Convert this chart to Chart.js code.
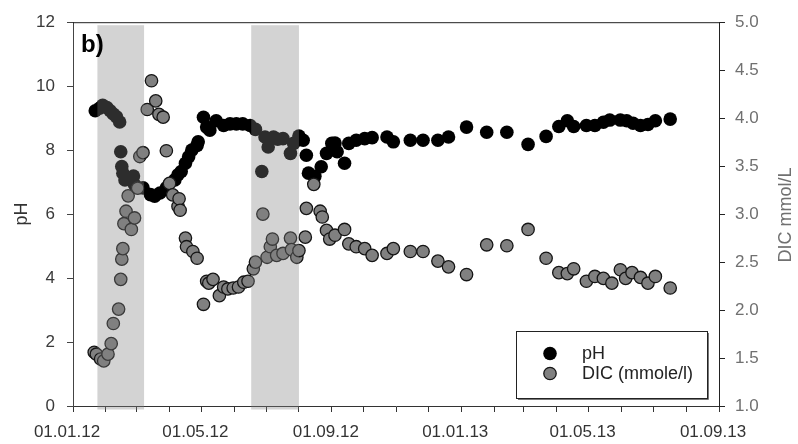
<!DOCTYPE html>
<html>
<head>
<meta charset="utf-8">
<script src="https://cdn.jsdelivr.net/npm/chart.js@4.4.1/dist/chart.umd.min.js"></script>
<style>
  html, body { margin: 0; padding: 0; background: #fff; }
  #wrap { width: 798px; height: 444px; }
</style>
</head>
<body>
<div id="wrap"><canvas id="chart" width="798" height="444"></canvas></div>
<script>
// Sampling dates (dd.mm.yy) and measured values
const phDates = [
  '22.01.12','26.01.12','29.01.12','02.02.12','05.02.12','08.02.12','11.02.12','14.02.12',
  '15.02.12','16.02.12','17.02.12','19.02.12','24.02.12','27.02.12','28.02.12','07.03.12',
  '14.03.12','18.03.12','23.03.12','29.03.12','06.04.12','09.04.12','12.04.12','16.04.12',
  '19.04.12','22.04.12','27.04.12','28.04.12','03.05.12','06.05.12','09.05.12','15.05.12',
  '22.05.12','28.05.12','03.06.12','09.06.12','16.06.12','21.06.12','27.06.12','30.06.12',
  '03.07.12','08.07.12','12.07.12','17.07.12','24.07.12','27.07.12','01.08.12','05.08.12',
  '08.08.12','10.08.12','16.08.12','22.08.12','27.08.12','01.09.12','04.09.12','06.09.12',
  '13.09.12','17.09.12','24.09.12','02.10.12','09.10.12','23.10.12','29.10.12','14.11.12',
  '26.11.12','10.12.12','20.12.12','06.01.13','25.01.13','13.02.13','05.03.13','22.03.13',
  '03.04.13','11.04.13','17.04.13','29.04.13','07.05.13','15.05.13','21.05.13','31.05.13',
  '06.06.13','12.06.13','19.06.13','26.06.13','03.07.13','17.07.13'
];
const phValues = [
  9.23, 9.31, 9.40, 9.33, 9.23, 9.13, 9.04, 8.88,
  7.95, 7.49, 7.28, 7.07, 7.12, 7.19, 6.92, 6.82,
  6.61, 6.56, 6.66, 6.82, 7.07, 7.23, 7.33, 7.59,
  7.79, 8.00, 8.15, 8.26, 9.03, 8.72, 8.62, 8.92,
  8.77, 8.82, 8.82, 8.82, 8.77, 8.65, 7.33, 8.41,
  8.10, 8.41, 8.34, 8.36, 7.90, 8.21, 8.44, 8.31,
  7.84, 7.28, 7.18, 7.48, 7.90, 8.21, 8.22, 7.95,
  7.59, 8.21, 8.31, 8.36, 8.39, 8.41, 8.26, 8.31,
  8.31, 8.31, 8.41, 8.72, 8.56, 8.56, 8.18, 8.43,
  8.74, 8.92, 8.74, 8.77, 8.77, 8.87, 8.94, 8.94,
  8.92, 8.84, 8.77, 8.80, 8.92, 8.97
];

const dicDates = [
  '21.01.12','23.01.12','27.01.12','30.01.12','03.02.12','06.02.12','08.02.12','13.02.12',
  '15.02.12','16.02.12','17.02.12','18.02.12','20.02.12','22.02.12','25.02.12','28.02.12',
  '02.03.12','04.03.12','07.03.12','11.03.12','15.03.12','19.03.12','22.03.12','26.03.12',
  '29.03.12','01.04.12','04.04.12','09.04.12','10.04.12','11.04.12','16.04.12','17.04.12',
  '23.04.12','27.04.12','03.05.12','06.05.12','08.05.12','12.05.12','18.05.12','22.05.12',
  '26.05.12','31.05.12','05.06.12','10.06.12','14.06.12','19.06.12','21.06.12','28.06.12',
  '02.07.12','05.07.12','07.07.12','11.07.12','17.07.12','24.07.12','25.07.12','30.07.12',
  '01.08.12','07.08.12','08.08.12','15.08.12','21.08.12','23.08.12','27.08.12','30.08.12',
  '04.09.12','13.09.12','17.09.12','24.09.12','02.10.12','09.10.12','23.10.12','29.10.12',
  '14.11.12','26.11.12','10.12.12','20.12.12','06.01.13','25.01.13','13.02.13','05.03.13',
  '22.03.13','03.04.13','11.04.13','17.04.13','29.04.13','07.05.13','15.05.13','23.05.13',
  '31.05.13','05.06.13','11.06.13','19.06.13','26.06.13','03.07.13','17.07.13'
];
const dicValues = [
  1.56, 1.54, 1.49, 1.47, 1.54, 1.65, 1.86, 2.01,
  2.32, 2.53, 2.64, 2.90, 3.03, 3.19, 2.84, 2.96,
  3.27, 3.60, 3.64, 4.09, 4.39, 4.18, 4.04, 4.01,
  3.66, 3.32, 3.20, 3.08, 3.16, 3.04, 2.75, 2.66,
  2.61, 2.54, 2.06, 2.30, 2.28, 2.32, 2.15, 2.24,
  2.22, 2.23, 2.24, 2.29, 2.30, 2.43, 2.50, 3.00,
  2.55, 2.66, 2.74, 2.57, 2.59, 2.75, 2.63, 2.55,
  2.62, 2.76, 3.06, 3.31, 3.03, 2.97, 2.83, 2.74,
  2.78, 2.84, 2.69, 2.66, 2.64, 2.57, 2.59, 2.64,
  2.61, 2.61, 2.51, 2.45, 2.37, 2.68, 2.67, 2.84,
  2.54, 2.39, 2.38, 2.43, 2.30, 2.35, 2.33, 2.28,
  2.42, 2.33, 2.39, 2.34, 2.28, 2.35, 2.23
];

// Shaded periods (start, end)
const shadedPeriods = [
  ['24.01.12', '08.03.12'],
  ['17.06.12', '01.08.12']
];

// Axis range and labelled date ticks
const axisStart = '01.01.12';
const axisEnd = '01.09.13';
const xTickLabels = ['01.01.12', '01.05.12', '01.09.12', '01.01.13', '01.05.13', '01.09.13'];
const phTickStep = 2;
const dicTickStep = 0.5;

const FONT = '"Liberation Sans", Arial, Helvetica, sans-serif';

// Days since the start of the axis for a dd.mm.yy date
const EPOCH = Date.UTC(2012, 0, 1);
function dayOf(s) {
  const [d, m, y] = s.split('.').map(Number);
  return Math.round((Date.UTC(2000 + y, m - 1, d) - EPOCH) / 86400000);
}

// Minor ticks on the first of every month
const monthTicks = [];
for (let y = 2012, m = 0; ; m++) {
  if (m > 11) { m = 0; y++; }
  const v = Math.round((Date.UTC(y, m, 1) - EPOCH) / 86400000);
  if (v > dayOf(axisEnd)) break;
  monthTicks.push(v);
}
const labelByDay = {};
xTickLabels.forEach(l => { labelByDay[dayOf(l)] = l; });

const phStyle = { fill: '#000000', border: '#000000', radius: 6.8, width: 0 };
const dicStyle = { fill: '#808080', border: '#151515', radius: 6.2, width: 1.3 };

const decorations = {
  id: 'decorations',
  afterDatasetsDraw(chart) {
    const { ctx, chartArea, scales } = chart;
    ctx.save();
    ctx.fillStyle = 'rgba(129,129,129,0.35)';
    shadedPeriods.forEach(([a, b]) => {
      const x0 = scales.x.getPixelForValue(dayOf(a));
      const x1 = scales.x.getPixelForValue(dayOf(b));
      const y0 = chartArea.top + 3;
      const y1 = chartArea.bottom + 3.5;
      ctx.fillRect(x0, y0, x1 - x0, y1 - y0);
    });
    ctx.restore();
  },
  afterDraw(chart) {
    const { ctx, chartArea } = chart;
    ctx.save();
    // frame top edge
    ctx.strokeStyle = '#222';
    ctx.lineWidth = 1;
    ctx.beginPath();
    ctx.moveTo(chartArea.left, chartArea.top + 0.5);
    ctx.lineTo(chartArea.right, chartArea.top + 0.5);
    ctx.stroke();

    // panel tag
    ctx.fillStyle = '#000';
    ctx.font = 'bold 24px ' + FONT;
    ctx.textAlign = 'left';
    ctx.textBaseline = 'alphabetic';
    ctx.fillText('b)', chartArea.left + 8, chartArea.top + 30);

    // right axis title, reading upward
    ctx.save();
    ctx.translate(786, (chartArea.top + chartArea.bottom) / 2 + 1);
    ctx.rotate(-Math.PI / 2);
    ctx.fillStyle = '#707070';
    ctx.font = '18px ' + FONT;
    ctx.textAlign = 'center';
    ctx.textBaseline = 'middle';
    ctx.fillText('DIC mmol/L', 0, 0);
    ctx.restore();

    // legend box
    const bx = 516, by = 331, bw = 191, bh = 67;
    ctx.fillStyle = '#fff';
    ctx.fillRect(bx, by, bw, bh);
    ctx.strokeStyle = '#222';
    ctx.lineWidth = 1;
    ctx.strokeRect(bx + 0.5, by + 0.5, bw, bh);
    ctx.strokeStyle = '#777';
    ctx.beginPath();
    ctx.moveTo(bx + 2, by + bh + 1.5);
    ctx.lineTo(bx + bw + 1.5, by + bh + 1.5);
    ctx.lineTo(bx + bw + 1.5, by + 2);
    ctx.stroke();

    const items = [
      { text: chart.data.datasets[0].label, style: phStyle, y: by + 22.5 },
      { text: chart.data.datasets[1].label, style: dicStyle, y: by + 42.5 }
    ];
    ctx.font = '18px ' + FONT;
    ctx.textAlign = 'left';
    ctx.textBaseline = 'middle';
    items.forEach(it => {
      ctx.beginPath();
      ctx.arc(bx + 34, it.y, it.style.radius, 0, Math.PI * 2);
      ctx.fillStyle = it.style.fill;
      ctx.fill();
      if (it.style.width) {
        ctx.lineWidth = it.style.width;
        ctx.strokeStyle = it.style.border;
        ctx.stroke();
      }
      ctx.fillStyle = '#222';
      ctx.fillText(it.text, bx + 66, it.y + 1);
    });
    ctx.restore();
  }
};

new Chart(document.getElementById('chart'), {
  type: 'scatter',
  data: {
    datasets: [
      {
        label: 'pH',
        data: phDates.map((d, i) => ({ x: dayOf(d), y: phValues[i] })),
        yAxisID: 'y',
        order: 2,
        backgroundColor: phStyle.fill,
        borderColor: phStyle.border,
        borderWidth: phStyle.width,
        pointRadius: phStyle.radius,
        pointHoverRadius: phStyle.radius
      },
      {
        label: 'DIC (mmole/l)',
        data: dicDates.map((d, i) => ({ x: dayOf(d), y: dicValues[i] })),
        yAxisID: 'y1',
        order: 1,
        backgroundColor: dicStyle.fill,
        borderColor: dicStyle.border,
        borderWidth: dicStyle.width,
        pointRadius: dicStyle.radius,
        pointHoverRadius: dicStyle.radius
      }
    ]
  },
  options: {
    responsive: false,
    animation: false,
    devicePixelRatio: 1,
    events: [],
    layout: { padding: { top: 17, left: 0, right: 0, bottom: 0 } },
    plugins: { legend: { display: false }, tooltip: { enabled: false } },
    scales: {
      x: {
        type: 'linear',
        min: dayOf(axisStart),
        max: dayOf(axisEnd),
        afterBuildTicks(scale) { scale.ticks = monthTicks.map(v => ({ value: v })); },
        afterFit(scale) { scale.height = 38; },
        ticks: {
          autoSkip: false,
          maxRotation: 0,
          minRotation: 0,
          padding: 10,
          labelOffset: -6,
          color: '#333',
          font: { family: FONT, size: 17 },
          callback: v => labelByDay[v] || ''
        },
        grid: { drawOnChartArea: false, drawTicks: true, tickLength: 6, color: '#333', lineWidth: 1 },
        border: { display: true, color: '#333', width: 1 }
      },
      y: {
        position: 'left',
        min: 0,
        max: 12,
        afterFit(scale) { scale.width = 73; },
        ticks: { stepSize: phTickStep, padding: 12, color: '#3a3a3a', font: { family: FONT, size: 17 } },
        grid: { drawOnChartArea: false, drawTicks: true, tickLength: 6, color: '#444' },
        border: { display: true, color: '#444', width: 1 },
        title: {
          display: true,
          text: 'pH',
          color: '#333',
          font: { family: FONT, size: 18 },
          padding: { top: 11, bottom: 0 }
        }
      },
      y1: {
        position: 'right',
        min: 1,
        max: 5,
        afterFit(scale) { scale.width = 79; },
        ticks: {
          stepSize: dicTickStep,
          padding: 10,
          color: '#707070',
          font: { family: FONT, size: 17 },
          callback: v => Number(v).toFixed(1)
        },
        grid: { drawOnChartArea: false, drawTicks: true, tickLength: 6, color: '#222' },
        border: { display: true, color: '#222', width: 1 }
      }
    }
  },
  plugins: [decorations]
});
</script>
</body>
</html>
